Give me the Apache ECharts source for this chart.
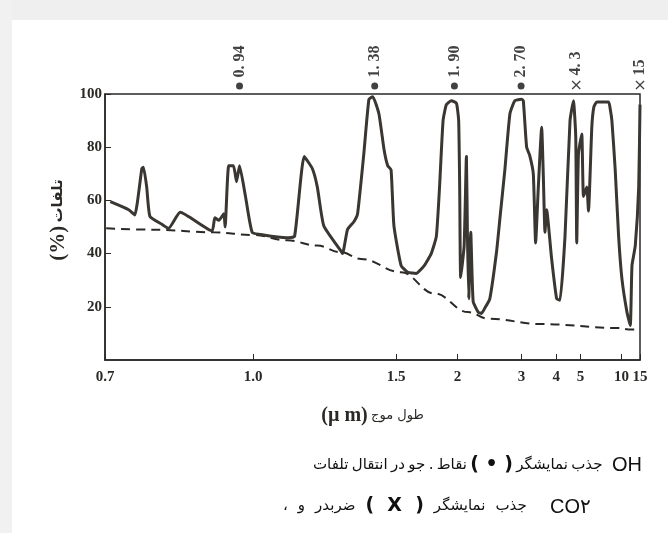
<!DOCTYPE html>
<html>
<head>
<meta charset="utf-8">
<script src="https://cdn.jsdelivr.net/npm/echarts@6/dist/echarts.min.js"></script>
<style>
  html, body { margin: 0; padding: 0; background: #fff; }
  #main { width: 668px; height: 533px; }
</style>
</head>
<body>
<div id="main"></div>
<script>
// محور افقی: طول موج (µm)
const tickWaves = [0.7, 1.0, 1.5, 2, 3, 4, 5, 10, 15];
const tickLabels = ['0.7', '1.0', '1.5', '2', '3', '4', '5', '10', '15'];
// the printed axis is hand drawn, not a true log scale: share of axis width at each tick
const tickFrac = [0, 0.2767, 0.544, 0.6587, 0.7787, 0.8433, 0.8887, 0.9653, 1];

const yTicks = [20, 40, 60, 80, 100];

// [wavelength µm, loss %]
const lossCurve = [
  [0.709, 59.5], [0.741, 56.5], [0.752, 54.5], [0.765, 72], [0.768, 72.5], [0.774, 65],
  [0.780, 54], [0.803, 51], [0.816, 49.5], [0.839, 55.5], [0.906, 48.5], [0.912, 53.5],
  [0.921, 52.5], [0.932, 55], [0.935, 50], [0.943, 73], [0.954, 73], [0.961, 67],
  [0.968, 73], [0.982, 61.5], [0.998, 48], [1.03, 47], [1.10, 46], [1.125, 46.5],
  [1.156, 76.5], [1.183, 72], [1.200, 65], [1.222, 50.5], [1.283, 41], [1.289, 40],
  [1.307, 49], [1.331, 52], [1.345, 55], [1.369, 77.5], [1.389, 98], [1.404, 99],
  [1.429, 92.5], [1.450, 79], [1.465, 73], [1.479, 71.5], [1.491, 50.5], [1.536, 35.5],
  [1.585, 33], [1.648, 32.5], [1.712, 35.5], [1.769, 40], [1.812, 46.5], [1.840, 65.5],
  [1.870, 90], [1.899, 96], [1.944, 97.5], [1.991, 96.5], [2.016, 90], [2.029, 65],
  [2.042, 31], [2.087, 43], [2.117, 76.5], [2.131, 46.5], [2.148, 23], [2.176, 48],
  [2.209, 22], [2.280, 18], [2.328, 17.5], [2.378, 19.5], [2.454, 23], [2.560, 40.5],
  [2.615, 53], [2.699, 71.5], [2.786, 92.5], [2.875, 97.5], [3.0, 98], [3.043, 97.5],
  [3.128, 80], [3.207, 77], [3.307, 70], [3.371, 44], [3.448, 65], [3.545, 87.5],
  [3.595, 69], [3.644, 48], [3.695, 56.5], [3.852, 38], [4.018, 23], [4.143, 22.5],
  [4.338, 46.5], [4.543, 90], [4.688, 97.5], [4.788, 84], [4.832, 44], [4.909, 77.5],
  [5.112, 85], [5.261, 61.5], [5.565, 65], [5.728, 56], [6.058, 87.5], [6.268, 95],
  [6.595, 97], [8.045, 97], [8.294, 94], [8.509, 90], [9.0, 71.5], [9.535, 46.5],
  [10.11, 30.5], [11.28, 18], [12.13, 13], [12.59, 35.5], [13.53, 43], [14.58, 65],
  [15, 96]
];

// خط چین پایین
const baseCurve = [
  [0.702, 49.5], [0.786, 49], [0.91, 48], [1.0, 47], [1.102, 45], [1.2, 43],
  [1.283, 40.5], [1.358, 38], [1.536, 33], [1.797, 25], [2.14, 18], [2.43, 15.5],
  [3.545, 13.5], [9.535, 12], [11.71, 11.5], [15, 11.5]
];

// نقاط بالای نمودار
const ohBands = [0.968, 1.412, 1.972, 2.99];
const ohLabels = ['0. 94', '1. 38', '1. 90', '2. 70'];
const co2Bands = [4.81, 15];
const co2Labels = ['4. 3', '15'];

// wavelength -> share of axis width (log inside each tick segment)
function warp(w) {
  for (let i = 0; i < tickWaves.length - 1; i++) {
    let a = tickWaves[i], b = tickWaves[i + 1];
    if (w <= b || i === tickWaves.length - 2) {
      let t = Math.log(w / a) / Math.log(b / a);
      return tickFrac[i] + t * (tickFrac[i + 1] - tickFrac[i]);
    }
  }
}

const serif = '"Liberation Serif", "DejaVu Serif", serif';
const fa = '"DejaVu Sans", sans-serif';
const latin = '"Liberation Sans", Arial, sans-serif';
const ink = '#2b2926';

let myChart = echarts.init(document.getElementById('main'));

let tickPos = tickWaves.map(warp);

// caption styles
let capStyle = {
  t: { fontFamily: fa, fontSize: 15, fill: '#111' },
  p: { fontFamily: fa, fontSize: 19, fontWeight: 'bold', fill: '#111' },
  e: { fontFamily: latin, fontSize: 20, fill: '#111' }
};

let markerLabel = {
  show: true,
  position: 'top',
  rotate: 90,
  align: 'left',
  verticalAlign: 'middle',
  distance: 5,
  formatter: '{b}',
  fontFamily: serif,
  fontWeight: 'bold',
  fontSize: 16,
  color: '#111'
};

let option = {
  backgroundColor: '#fff',
  animation: false,
  grid: {
    left: 105,
    right: 28,
    top: 94,
    bottom: 173,
    show: true,
    borderColor: ink,
    borderWidth: 1.5,
    backgroundColor: 'transparent'
  },
  xAxis: {
    type: 'value',
    min: 0,
    max: 1,
    name: '{u|(µ m)} {f|طول موج}',
    nameLocation: 'middle',
    nameGap: 46,
    nameTextStyle: {
      rich: {
        u: { fontFamily: serif, fontWeight: 'bold', fontSize: 20, color: ink },
        f: { fontFamily: fa, fontSize: 13, color: ink }
      }
    },
    axisLine: { show: true, lineStyle: { color: ink, width: 1.5 } },
    axisTick: { show: true, inside: true, length: 6, customValues: tickPos, lineStyle: { color: ink } },
    splitLine: { show: false },
    axisLabel: {
      customValues: tickPos,
      margin: 10,
      fontFamily: serif,
      fontWeight: 'bold',
      fontSize: 15,
      color: ink,
      formatter: function (v) {
        let best = 0;
        tickPos.forEach((p, i) => {
          if (Math.abs(p - v) < Math.abs(tickPos[best] - v)) best = i;
        });
        return tickLabels[best];
      }
    }
  },
  yAxis: {
    type: 'value',
    min: 0,
    max: 100,
    name: '{p|(%)} {f|تلفات}',
    nameLocation: 'middle',
    nameRotate: 90,
    nameGap: 34,
    nameTextStyle: {
      padding: [0, 0, 0, 14],
      rich: {
        p: { fontFamily: serif, fontWeight: 'bold', fontSize: 21, color: ink },
        f: { fontFamily: fa, fontWeight: 'bold', fontSize: 15, color: ink }
      }
    },
    axisLine: { show: true, lineStyle: { color: ink, width: 1.5 } },
    axisTick: { show: true, inside: true, length: 6, customValues: yTicks, lineStyle: { color: ink } },
    splitLine: { show: false },
    axisLabel: {
      customValues: yTicks,
      margin: 3,
      fontFamily: serif,
      fontWeight: 'bold',
      fontSize: 15,
      color: ink
    }
  },
  graphic: [
    { type: 'rect', z: -10, shape: { x: 0, y: 0, width: 668, height: 20 }, style: { fill: '#efefef' } },
    { type: 'rect', z: -10, shape: { x: 0, y: 0, width: 12, height: 533 }, style: { fill: '#f1f1f1' } },
    {
      type: 'text',
      left: 313,
      top: 456,
      style: {
        align: 'left',
        text: '{t|تلفات} {t|انتقال} {t|در} {t|جو} {t|.} {t|نقاط} {p|( • )} {t|نمایشگر} {t|جذب}',
        rich: capStyle
      }
    },
    {
      type: 'text',
      left: 612,
      top: 455,
      style: { align: 'left', text: '{e|OH}', rich: capStyle }
    },
    {
      type: 'text',
      left: 283,
      top: 497,
      style: {
        align: 'left',
        text: '{t|،}   {t|و}   {t|ضربدر}   {p|(  X  )}   {t|نمایشگر}   {t|جذب}',
        rich: capStyle
      }
    },
    {
      type: 'text',
      left: 550,
      top: 497,
      style: { align: 'left', text: '{e|CO۲}', rich: capStyle }
    }
  ],
  series: [
    {
      type: 'line',
      data: baseCurve.map((d) => [warp(d[0]), d[1]]),
      showSymbol: false,
      smooth: 0.4,
      smoothMonotone: 'x',
      lineStyle: { color: ink, width: 2, type: [9, 6] },
      z: 2
    },
    {
      type: 'line',
      data: lossCurve.map((d) => [warp(d[0]), d[1]]),
      showSymbol: false,
      smooth: 0.15,
      lineStyle: { color: '#3a3631', width: 3, join: 'round' },
      z: 3
    },
    {
      type: 'scatter',
      clip: false,
      symbol: 'circle',
      symbolSize: 7,
      symbolOffset: [0, -8],
      itemStyle: { color: '#111' },
      data: ohBands.map((w, i) => ({ value: [warp(w), 100], name: ohLabels[i] })),
      label: markerLabel
    },
    {
      type: 'scatter',
      clip: false,
      symbol: 'path://M0,1 L1,0 L5,4 L9,0 L10,1 L6,5 L10,9 L9,10 L5,6 L1,10 L0,9 L4,5 Z',
      symbolSize: 9,
      symbolOffset: [0, -9],
      itemStyle: { color: '#111' },
      data: co2Bands.map((w, i) => ({ value: [warp(w), 100], name: co2Labels[i] })),
      label: markerLabel
    }
  ]
};
myChart.setOption(option);
</script>
</body>
</html>
